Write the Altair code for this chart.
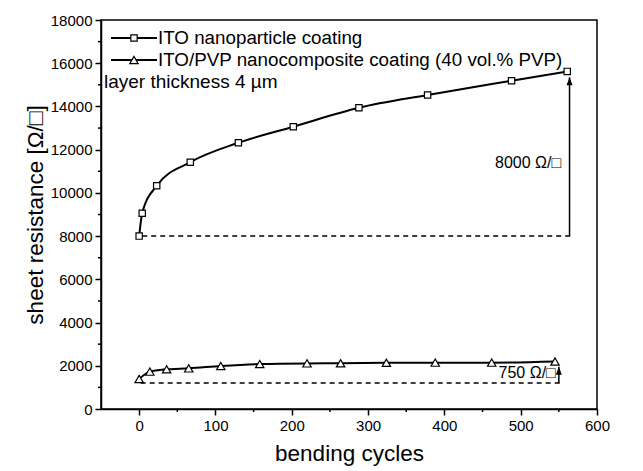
import altair as alt
import pandas as pd

S1 = "ITO nanoparticle coating"
S2 = "ITO/PVP nanocomposite coating (40 vol.% PVP)"
THICK = "layer thickness 4 µm"

ito_x = [0, 4, 23, 67, 130, 202, 288, 378, 488, 561]
ito_y = [8000, 9060, 10330, 11420, 12320, 13060, 13940, 14530, 15190, 15620]
pvp_x = [0, 14, 36, 65, 107, 158, 220, 264, 324, 388, 462, 545]
pvp_y = [1390, 1730, 1835, 1880, 1990, 2080, 2110, 2115, 2140, 2145, 2145, 2200]

x_major = [0, 100, 200, 300, 400, 500, 600]
x_minor = [50, 150, 250, 350, 450, 550]
y_major = list(range(0, 18001, 2000))
y_minor = list(range(1000, 18000, 2000))

dash_x1 = [4, 2]
dash_x2 = [569, 556]
dash_y = [8000, 1200]

arrow_x = [564, 550]
arrow_base = [8000, 1200]
arrow_tip = [15350, 1950]

note_x = [553, 546]
note_y = [11380, 1665]
note_text = ["8000 Ω/□", "750 Ω/□"]

FONT = "Liberation Sans"
W, H = 496, 389

df = pd.DataFrame({
    "cycles": ito_x + pvp_x,
    "R": ito_y + pvp_y,
    "series": [S1] * len(ito_x) + [S2] * len(pvp_x),
})

xs = alt.Scale(domain=[-50, 600], nice=False, zero=False)
ys = alt.Scale(domain=[0, 18000], nice=False)

common = dict(grid=False, tickSize=6, tickWidth=1.5, domainWidth=1.5, domainColor="black",
              tickColor="black", labelColor="black", titleColor="black", labelFont=FONT,
              titleFont=FONT, labelFontSize=15, titleFontSize=22.5, titleFontWeight="normal",
              labelPadding=3, format="d", labelFlush=False)
xaxis = alt.Axis(values=x_major, title="bending cycles", titleY=44, titleBaseline="middle",
                 **common)
yaxis = alt.Axis(values=y_major, title="sheet resistance [Ω/□]", titleX=-66,
                 titleBaseline="middle", titleAlign="center", titleAngle=270, **common)

X = alt.X("cycles:Q", scale=xs, axis=xaxis)
Y = alt.Y("R:Q", scale=ys, axis=yaxis)

lines = alt.Chart(df).mark_line(interpolate="monotone", color="black", strokeWidth=2).encode(
    x=X, y=Y, detail="series:N")

points = alt.Chart(df).mark_point(filled=True, fill="white", stroke="black",
                                  strokeWidth=1.2, opacity=1).encode(
    x="cycles:Q", y="R:Q",
    shape=alt.Shape("series:N", scale=alt.Scale(domain=[S1, S2], range=["square", "triangle-up"]),
                    legend=None),
    size=alt.Size("series:N", scale=alt.Scale(domain=[S1, S2], range=[40, 70]), legend=None),
)

dash_df = pd.DataFrame({"x1": dash_x1, "x2": dash_x2, "y": dash_y})
dashes = alt.Chart(dash_df).mark_rule(color="black", strokeWidth=1.5, strokeDash=[5, 4]).encode(
    x="x1:Q", x2="x2:Q", y="y:Q")

arr_df = pd.DataFrame({"x": arrow_x, "y1": arrow_base, "y2": arrow_tip})
shafts = alt.Chart(arr_df).mark_rule(color="black", strokeWidth=1.5).encode(
    x="x:Q", y="y1:Q", y2="y2:Q")
heads = alt.Chart(arr_df).mark_point(shape="M0,0L0.6,1.6L-0.6,1.6Z", filled=True,
                                     color="black", size=100, opacity=1).encode(
    x="x:Q", y="y2:Q")

note_df = pd.DataFrame({"x": note_x, "y": note_y, "t": note_text})
notes = alt.Chart(note_df).mark_text(align="right", baseline="middle", font=FONT,
                                     fontSize=16, color="black").encode(
    x="x:Q", y="y:Q", text="t:N")

# legend drawn by hand (line + open marker + label)
legend_layers = []
for i, (lab, shp, sz) in enumerate([(S1, "square", 40), (S2, "triangle-up", 70)]):
    ld = pd.DataFrame({"label": [lab]})
    yv = 18 + 22 * i
    legend_layers.append(alt.Chart(ld).mark_rule(color="black", strokeWidth=2).encode(
        x=alt.value(10), x2=alt.value(56), y=alt.value(yv)))
    legend_layers.append(alt.Chart(ld).mark_point(shape=shp, filled=True, fill="white",
                                                  stroke="black", strokeWidth=1.2, size=sz,
                                                  opacity=1).encode(
        x=alt.value(33), y=alt.value(yv)))
    legend_layers.append(alt.Chart(ld).mark_text(align="left", baseline="middle", font=FONT,
                                                 fontSize=18.8, color="black").encode(
        x=alt.value(57), y=alt.value(yv), text="label:N"))

thick = alt.Chart(pd.DataFrame({"t": [THICK]})).mark_text(
    align="left", baseline="middle", font=FONT, fontSize=19, color="black").encode(
    x=alt.value(3), y=alt.value(62), text="t:N")

xmin_df = pd.DataFrame({"v": x_minor})
xminor = alt.Chart(xmin_df).mark_rule(color="black", strokeWidth=1.5).encode(
    x="v:Q", y=alt.value(H), y2=alt.value(H + 3))
ymin_df = pd.DataFrame({"v": y_minor})
yminor = alt.Chart(ymin_df).mark_rule(color="black", strokeWidth=1.5).encode(
    y="v:Q", x=alt.value(0), x2=alt.value(-3))

chart = alt.layer(lines, points, dashes, shafts, heads, notes, thick, xminor, yminor,
                  *legend_layers).properties(
    width=W, height=H,
    autosize=alt.AutoSizeParams(type="none"),
    padding={"left": 93, "top": 12, "right": 30, "bottom": 60},
    background="white",
).configure_view(stroke="black", strokeWidth=1.5)

chart.save("out.html", embed_options={"renderer": "svg", "actions": False})
